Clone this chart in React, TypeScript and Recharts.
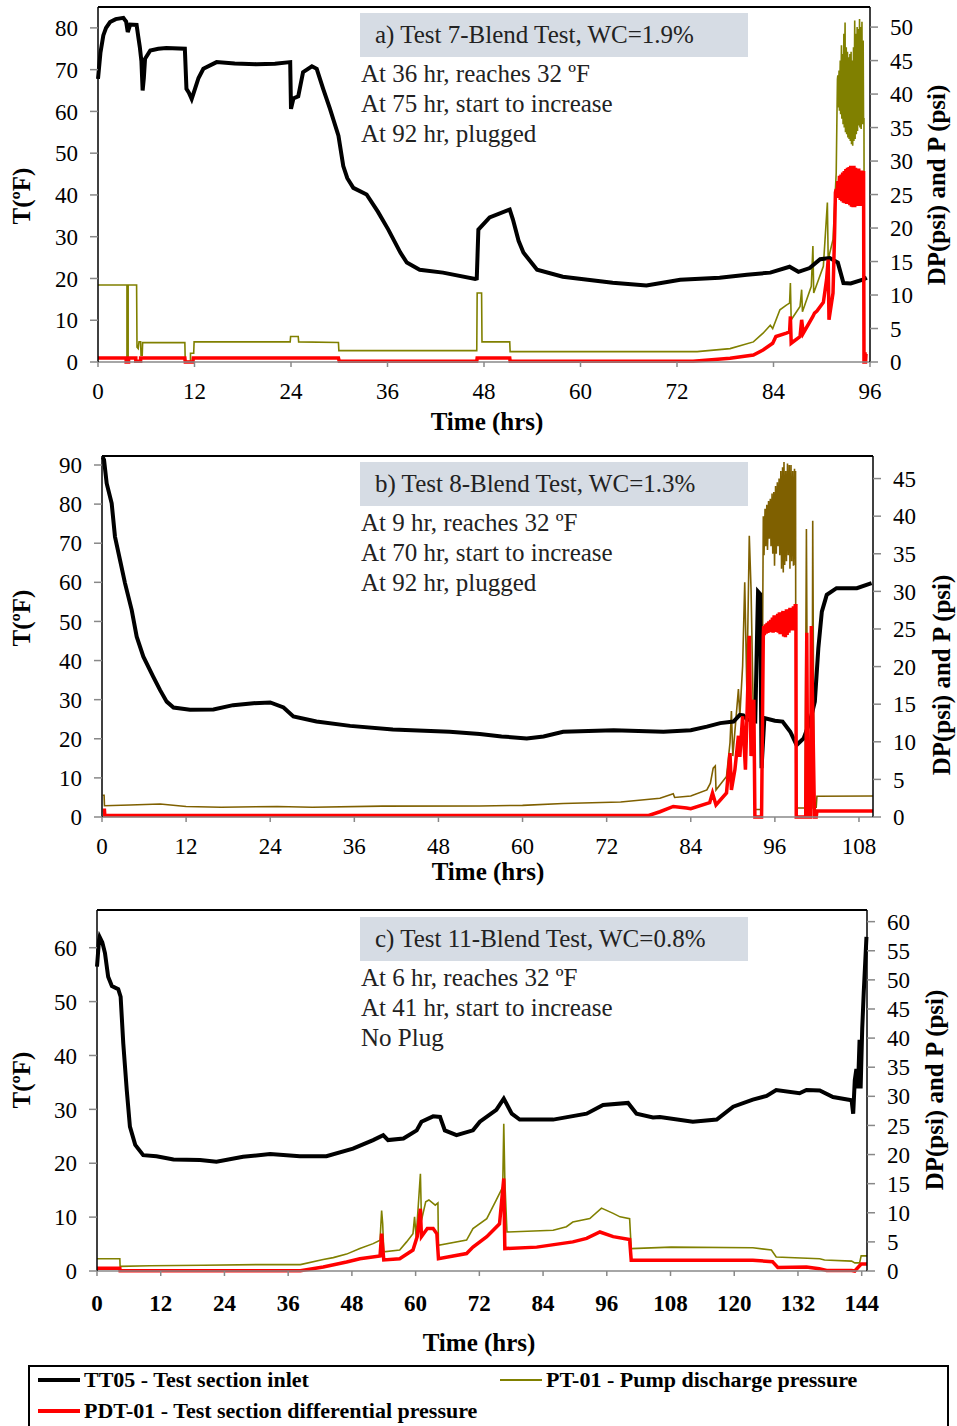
import React from 'react';
import { LineChart, Line, XAxis, YAxis, ReferenceLine } from 'recharts';

type Pt = [number, number];

const SERIF = '"Liberation Serif", "Times New Roman", serif';
const OLIVE = '#808000';
const BROWN = '#7F6000';
const RED = '#FF0000';

// ---- panel a: Test 7 ----
const hoursA = [0, 12, 24, 36, 48, 60, 72, 84, 96];
const tempTicksA = [0, 10, 20, 30, 40, 50, 60, 70, 80];
const psiTicksA = [0, 5, 10, 15, 20, 25, 30, 35, 40, 45, 50];

const tt05A: Pt[] = [
  [0, 67.8], [0.3, 74], [0.66, 78.2], [1.0, 80], [1.5, 81.4], [2.2, 82.1], [3.15, 82.4], [3.3, 82], [3.5, 81.5],
  [3.7, 79], [4.0, 80.8], [4.8, 80.7], [5.0, 78], [5.2, 75.4], [5.4, 72], [5.55, 65], [5.7, 68], [5.85, 72.6],
  [6.5, 74.6], [7.5, 75], [8.5, 75.2], [10.8, 75], [11.0, 65.4], [11.3, 64.5], [11.65, 63], [12.06, 65.4],
  [12.5, 68], [13.1, 70.2], [14.75, 71.8], [17, 71.5], [19.7, 71.3], [22, 71.4], [23.9, 71.8], [24.0, 60.6],
  [24.3, 63.1], [24.9, 63.6], [25.5, 69.4], [26.6, 70.8], [27.2, 70.2], [28.0, 65.4], [28.85, 60.6], [29.9, 54.2],
  [30.5, 46.9], [31.0, 44], [31.75, 41.7], [33.4, 40.1], [34.8, 36], [36.1, 31.7], [37.6, 26.2], [38.4, 23.8],
  [40, 22.1], [42.9, 21.4], [46.9, 19.9], [47.1, 20], [47.3, 31.7], [48.7, 34.6], [51.2, 36.5], [51.6, 34.1],
  [52.3, 29], [52.9, 26.2], [54.6, 22.1], [57.8, 20.4], [64, 19], [68.2, 18.3], [72.4, 19.7], [77.3, 20.2],
  [80.7, 20.9], [83.6, 21.4], [86, 22.8], [87.1, 21.6], [88.5, 22.5], [89.8, 24.6], [91, 24.9], [92, 23.8],
  [92.7, 18.9], [93.6, 18.8], [95.1, 19.7], [95.6, 20.2],
];

const pt01A: Pt[] = [
  [0, 11.5], [3.6, 11.5], [3.6, 0.3], [3.75, 0.3], [3.75, 11.5], [4.8, 11.5], [4.85, 2.2], [5.0, 2.0], [5.1, 3.0],
  [5.3, 3.0], [5.35, 1.0], [5.5, 1.0], [5.55, 2.9], [10.8, 2.9], [10.85, 0.05], [11.5, 0.05], [11.5, 1.3],
  [11.9, 1.3], [11.95, 3.0], [23.9, 3.0], [23.95, 3.8], [24.9, 3.8], [24.95, 3.0], [29.9, 2.9], [29.95, 1.7],
  [47.1, 1.7], [47.15, 10.3], [47.7, 10.3], [47.75, 3.0], [51.2, 3.0], [51.25, 1.55], [74.5, 1.55], [78.6, 2.0],
  [81.5, 3.0], [82.7, 4.3], [83.6, 5.5], [83.9, 5.0], [84.8, 7.8], [85.6, 8.5], [86.0, 8.8], [86.1, 11.8],
  [86.2, 6.3], [87.3, 8.3], [87.5, 10.8], [87.6, 7.5], [88.7, 11.3], [88.9, 17.3], [89.0, 10.3], [90.2, 14.3],
  [90.7, 23.8], [90.8, 15.3], [91.4, 18.3], [91.8, 28.3], [91.95, 42.2],
  [92.0, 42.8], [92.05, 38], [92.15, 43.5], [92.2, 37.5], [92.3, 45], [92.35, 37], [92.45, 47.3], [92.5, 36.3],
  [92.6, 46], [92.65, 35.5], [92.75, 49], [92.8, 35], [92.9, 50.7], [92.95, 34.3], [93.05, 47], [93.1, 34],
  [93.2, 46.3], [93.25, 33.5], [93.35, 45.5], [93.4, 33.3], [93.5, 46], [93.55, 33], [93.65, 46.3], [93.7, 32.5],
  [93.8, 45], [93.85, 32.3], [93.95, 47], [94.0, 33], [94.1, 51], [94.15, 33.3], [94.25, 49], [94.3, 34],
  [94.4, 50], [94.45, 34.5], [94.55, 49.7], [94.6, 35.3], [94.7, 51.2], [94.75, 35], [94.85, 50], [94.9, 34.8],
  [95.0, 50.8], [95.05, 35.5], [95.15, 48], [95.2, 36.3], [95.25, 36.3], [95.3, 0], [95.6, 0],
];

const pdt01A: Pt[] = [
  [0, 0.6], [3.5, 0.6], [3.5, 0], [3.8, 0], [3.8, 0.6], [4.7, 0.6], [4.7, 0.1], [5.3, 0.1], [5.3, 0.6],
  [10.8, 0.6], [10.85, 0], [11.8, 0], [11.85, 0.6], [29.9, 0.6], [30.0, 0.1], [47.1, 0.1], [47.15, 0.6],
  [51.2, 0.6], [51.25, 0.1], [74, 0.1], [78.6, 0.55], [81.5, 1.05], [82.7, 1.8], [83.9, 2.8], [84.3, 3.8],
  [85.6, 4.3], [86.0, 4.5], [86.1, 6.8], [86.2, 2.8], [87.3, 3.8], [87.5, 6.3], [87.7, 4.3], [88.9, 6.8],
  [89.1, 7.3], [89.4, 7.6], [90.2, 8.9], [90.6, 12.3], [90.8, 15.3], [90.9, 6.3], [91.4, 10.3], [91.6, 19.3],
  [91.7, 25.3], [91.8, 25.8], [91.9, 24.8], [92.0, 27.0], [92.1, 24.5], [92.2, 27.8], [92.3, 24.2], [92.4, 28],
  [92.5, 24], [92.6, 28.3], [92.7, 23.8], [92.8, 28.5], [92.9, 23.7], [93.0, 28.8], [93.1, 23.6], [93.2, 29],
  [93.3, 23.6], [93.4, 29.1], [93.5, 23.4], [93.6, 29.3], [93.7, 23.2], [93.8, 29.2], [93.9, 23.1], [94.0, 29.3],
  [94.1, 23.1], [94.2, 29], [94.3, 23.3], [94.4, 28.8], [94.5, 23.3], [94.6, 28.9], [94.7, 23.4], [94.8, 28.6],
  [94.9, 23.3], [95.0, 28.6], [95.1, 23.3], [95.2, 28.5], [95.25, 0], [95.45, 0], [95.5, 1.2], [95.6, 1.2],
];

// ---- panel b: Test 8 ----
const hoursB = [0, 12, 24, 36, 48, 60, 72, 84, 96, 108];
const tempTicksB = [0, 10, 20, 30, 40, 50, 60, 70, 80, 90];
const psiTicksB = [0, 5, 10, 15, 20, 25, 30, 35, 40, 45];

const tt05B: Pt[] = [
  [0.1, 92], [0.29, 91.3], [0.67, 85.3], [1.38, 80.2], [1.85, 71.7], [2.57, 65.7], [3.28, 59.8], [4.24, 52.9],
  [4.95, 46.1], [5.9, 41], [7.3, 35.9], [8.27, 32.5], [9.23, 29.5], [10.2, 28], [12.55, 27.4], [15.9, 27.5],
  [18.7, 28.6], [21.6, 29.1], [24, 29.3], [25.9, 28], [27.3, 25.7], [30.6, 24.4], [35.4, 23.3], [41.5, 22.4],
  [49.6, 21.8], [53.9, 21.2], [57, 20.6], [60.6, 20.1], [63, 20.6], [65.8, 21.8], [73, 22.2], [80.1, 21.8],
  [84, 22.2], [86.3, 23.1], [88.2, 24], [90.1, 24.4], [91, 26.1], [91.5, 26], [92, 25], [93.2, 24.5], [93.5, 50],
  [93.6, 57.6], [93.9, 57], [94.1, 12.5], [94.5, 25.3], [96, 24.6], [97.1, 24.4], [98.2, 21.8], [99.1, 18.4],
  [100.1, 20.1], [101, 24.4], [101.7, 29.5], [102.2, 43.1], [102.7, 52.5], [103.4, 56.8], [104.8, 58.5],
  [107.7, 58.5], [109.8, 59.8],
];

const pt01B: Pt[] = [
  [0.1, 2.9], [0.3, 2.9], [0.35, 1.5], [4, 1.6], [8.3, 1.72], [12, 1.4], [17, 1.3], [25, 1.4], [30, 1.3],
  [40, 1.45], [53.9, 1.46], [60, 1.55], [65.8, 1.8], [74, 2.0], [79.6, 2.5], [81.5, 3.1], [81.7, 2.6], [84, 2.8],
  [86.3, 3.6], [86.8, 4.5], [87.2, 6.5], [87.5, 6.8], [87.6, 3.6], [89.1, 5.4], [89.6, 9.9], [89.8, 14.1],
  [90.0, 8.1], [90.8, 17], [91.0, 13.4], [91.4, 20.1], [91.7, 31.2], [92.0, 17], [92.35, 37.4], [92.6, 30.3],
  [92.9, 15], [93.2, 1], [94.1, 1], [94.35, 40], [94.45, 34.8], [94.6, 41], [94.7, 36], [94.85, 41.5],
  [94.95, 35.5], [95.1, 42], [95.2, 37], [95.35, 42.3], [95.45, 36], [95.6, 43], [95.7, 35], [95.85, 43.2],
  [95.95, 33.4], [96.1, 44], [96.2, 35], [96.35, 44.5], [96.45, 36], [96.6, 45], [96.7, 34.8], [96.85, 46],
  [96.95, 33], [97.1, 46.5], [97.2, 32.5], [97.3, 47.2], [97.4, 33.5], [97.55, 46], [97.65, 34], [97.8, 47],
  [97.9, 34.8], [98.05, 46.8], [98.15, 33], [98.3, 46.8], [98.4, 34], [98.55, 46], [98.65, 33.4], [98.8, 46.3],
  [98.9, 33.5], [98.95, 46], [99.0, 1.2], [100.3, 1.2], [100.5, 38.3], [100.7, 1.2], [101.3, 1.2], [101.4, 39.4],
  [101.6, 1.3], [101.9, 1.3], [102.0, 2.75], [110, 2.8],
];

const pdt01B: Pt[] = [
  [0.1, 0.9], [0.35, 0.9], [0.4, 0.2], [78, 0.2], [79.6, 0.7], [81.5, 1.4], [83.4, 1.2], [84, 1.1], [86.7, 1.9],
  [87.1, 3.2], [87.6, 1.6], [89.1, 3.2], [89.6, 8.5], [89.8, 3.6], [90.3, 6.3], [90.8, 10.8], [91.0, 8],
  [91.4, 13.4], [91.8, 6.3], [92.35, 24.1], [92.6, 8.1], [93.0, 15.6], [93.15, 0], [94.1, 0], [94.35, 24.1],
  [94.4, 25.4], [94.5, 24.2], [94.65, 25.6], [94.75, 24.4], [94.9, 25.8], [95.0, 24.5], [95.15, 26], [95.25, 24.6],
  [95.4, 26.2], [95.5, 24.8], [95.65, 26.5], [95.75, 24.5], [95.9, 26.8], [96.0, 24.6], [96.15, 26.6],
  [96.25, 24.8], [96.4, 27], [96.5, 24.5], [96.65, 27.2], [96.75, 24.3], [96.9, 27.2], [97.0, 24.5], [97.15, 27.4],
  [97.25, 24], [97.4, 27.3], [97.5, 23.9], [97.65, 27.6], [97.75, 24.2], [97.9, 27.6], [98.0, 24.5], [98.15, 27.8],
  [98.25, 24.8], [98.4, 27.8], [98.5, 25], [98.65, 28], [98.75, 24.8], [98.9, 28.1], [99.0, 28.1], [99.05, 0],
  [100.4, 0], [100.55, 24.5], [100.7, 0], [101.1, 0], [101.2, 25.4], [101.65, 0], [101.9, 0], [102.0, 0.8],
  [110, 0.8],
];

// ---- panel c: Test 11 ----
const hoursC = [0, 12, 24, 36, 48, 60, 72, 84, 96, 108, 120, 132, 144];
const tempTicksC = [0, 10, 20, 30, 40, 50, 60];
const psiTicksC = [0, 5, 10, 15, 20, 25, 30, 35, 40, 45, 50, 55, 60];

const tt05C: Pt[] = [
  [0, 56.5], [0.38, 61.4], [0.5, 62], [1.0, 61], [1.5, 59], [2.1, 54.6], [2.8, 52.9], [4.0, 52.3], [4.45, 50.9],
  [4.95, 42.2], [5.6, 33.6], [6.2, 26.8], [7.2, 23.4], [8.7, 21.5], [11.2, 21.3], [14.4, 20.7], [19.4, 20.6],
  [22.5, 20.3], [27.5, 21.2], [32.6, 21.7], [38.2, 21.3], [43.2, 21.3], [48.2, 22.7], [52, 24.3], [53.9, 25.2],
  [54.8, 24.3], [57.7, 24.6], [60.2, 26.1], [61.1, 27.7], [63.3, 28.7], [64.6, 28.6], [65.5, 26.1], [67.7, 25.2],
  [70.8, 26.1], [72.1, 27.7], [75.2, 29.9], [76.6, 32], [78.1, 29.2], [79.6, 28.1], [85.9, 28.1], [92.2, 29.2],
  [95.3, 30.8], [100, 31.2], [101.6, 29.2], [104.7, 28.5], [106, 28.6], [112.2, 27.7], [116.7, 28.1],
  [119.8, 30.5], [123.5, 31.8], [126.1, 32.5], [127.9, 33.6], [132.3, 33.0], [133.6, 33.6], [136.1, 33.5],
  [138.6, 32.3], [142.1, 31.7], [142.4, 29.2], [142.7, 35.4], [143.0, 37.5], [143.3, 33.9], [143.6, 42.9],
  [143.8, 33.9], [144.1, 45], [144.4, 52], [144.9, 62],
];

const pt01C: Pt[] = [
  [0, 2.1], [4.3, 2.1], [4.35, 0.8], [10, 0.9], [20, 1.0], [30, 1.1], [38.3, 1.1], [42.6, 1.96], [44.5, 2.3],
  [47, 2.9], [49.5, 3.85], [52, 4.7], [53.3, 5.3], [53.6, 10.4], [53.8, 8.1], [54.0, 3.3], [57, 3.6], [58.3, 5.0],
  [59.5, 6.4], [59.8, 9.3], [60.1, 5.8], [60.9, 16.7], [61.1, 8.7], [61.9, 11.9], [62.5, 12.2], [63.7, 11.3],
  [64.2, 11.7], [64.3, 4.4], [69.6, 5.3], [70.8, 7.3], [73.4, 9.0], [75.2, 12.2], [76.4, 14.4], [76.6, 25.3],
  [76.8, 15.5], [77.2, 6.7], [85.9, 7.0], [88.4, 7.6], [89.6, 8.4], [92.8, 9.0], [95.0, 10.8], [97.2, 9.9],
  [98.5, 9.3], [100.3, 9.0], [100.6, 3.85], [108.1, 4.1], [123.5, 4.0], [127, 3.6], [127.9, 2.4], [136.1, 2.1],
  [137, 1.9], [142.1, 1.7], [142.7, 1.4], [143.6, 1.4], [143.9, 2.6], [145, 2.6],
];

const pdt01C: Pt[] = [
  [0, 0.46], [4.3, 0.46], [4.35, 0.05], [38.3, 0.05], [42.6, 0.7], [47, 1.55], [49.5, 2.1], [53.3, 2.6],
  [53.6, 6.4], [53.8, 4.1], [54.0, 1.9], [57, 2.1], [59.5, 3.6], [60.3, 5.9], [60.9, 10.7], [61.1, 5.9],
  [62.2, 7.3], [63.3, 7.3], [64, 6.4], [64.3, 2.1], [69.6, 3.0], [70.8, 4.1], [73.4, 5.9], [75.8, 8.1],
  [76.6, 15.9], [76.8, 3.85], [82.8, 4.1], [89.6, 5.0], [92.2, 5.6], [94.7, 6.7], [97.2, 5.9], [100.3, 5.4],
  [100.6, 1.85], [123.5, 1.85], [127.2, 1.6], [128.2, 0.6], [133.6, 0.7], [136, 0.4], [137.4, 0.1], [142.1, 0.1],
  [142.7, 0], [143.9, 1.2], [145, 1.2],
];

const toRows = (pts: Pt[]) => pts.map(([x, y]) => ({ x, y }));

type PanelProps = {
  top: number;
  height: number;
  left: number;
  right: number;
  xMax: number;
  xTicks: number[];
  tMax: number;
  tTicks: number[];
  pMax: number;
  pTicks: number[];
  temp: Pt[];
  pump: Pt[];
  diff: Pt[];
  pumpColor: string;
  boldX?: boolean;
  xTickGap: number;
};

const Panel = (p: PanelProps) => {
  const tick = { fontSize: 23, fill: '#000', fontFamily: SERIF };
  const xTick = { ...tick, fontWeight: p.boldX ? 'bold' : 'normal' };
  return (
    <div style={{ position: 'absolute', left: 0, top: p.top }}>
      <LineChart width={957} height={p.height} margin={{ top: 7, right: p.right, left: p.left, bottom: 0 }}>
        <XAxis
          type="number"
          dataKey="x"
          domain={[0, p.xMax]}
          ticks={p.xTicks}
          interval={0}
          height={54}
          tickSize={5}
          tickMargin={p.xTickGap}
          tick={xTick}
          axisLine={{ stroke: '#888', strokeWidth: 1.5 }}
          tickLine={{ stroke: '#888', strokeWidth: 1.5 }}
        />
        <YAxis
          yAxisId="left"
          type="number"
          domain={[0, p.tMax]}
          ticks={p.tTicks}
          interval={0}
          width={60}
          tickSize={8}
          tickMargin={12}
          tick={tick}
          axisLine={{ stroke: '#000', strokeWidth: 1.5 }}
          tickLine={{ stroke: '#888', strokeWidth: 1.5 }}
        />
        <YAxis
          yAxisId="right"
          orientation="right"
          type="number"
          domain={[0, p.pMax]}
          ticks={p.pTicks}
          interval={0}
          width={60}
          tickSize={8}
          tickMargin={12}
          tick={tick}
          axisLine={{ stroke: '#000', strokeWidth: 1.5 }}
          tickLine={{ stroke: '#888', strokeWidth: 1.5 }}
        />
        <ReferenceLine yAxisId="left" y={p.tMax} stroke="#000" strokeWidth={2} />
        <Line data={toRows(p.pump)} dataKey="y" yAxisId="right" type="linear" stroke={p.pumpColor}
          strokeWidth={1.6} dot={false} isAnimationActive={false} />
        <Line data={toRows(p.temp)} dataKey="y" yAxisId="left" type="linear" stroke="#000"
          strokeWidth={4} dot={false} isAnimationActive={false} />
        <Line data={toRows(p.diff)} dataKey="y" yAxisId="right" type="linear" stroke={RED}
          strokeWidth={3.5} dot={false} isAnimationActive={false} />
      </LineChart>
    </div>
  );
};

const txt = (left: number, top: number, s: string, key?: number) => (
  <div key={key} style={{ position: 'absolute', left, top, fontSize: 25, lineHeight: '30px', whiteSpace: 'nowrap', color: '#222' }}>
    {s}
  </div>
);

const vTitle = (cx: number, cy: number, s: string) => (
  <div style={{
    position: 'absolute', left: cx, top: cy, transform: 'translate(-50%, -50%) rotate(-90deg)',
    fontSize: 25, fontWeight: 'bold', whiteSpace: 'nowrap',
  }}>{s}</div>
);

const hTitle = (cx: number, cy: number, s: string) => (
  <div style={{
    position: 'absolute', left: cx, top: cy, transform: 'translate(-50%, -50%)',
    fontSize: 25, fontWeight: 'bold', whiteSpace: 'nowrap',
  }}>{s}</div>
);

const noteBox = (top: number, title: string, lines: string[]) => (
  <>
    <div style={{ position: 'absolute', left: 360, top, width: 388, height: 44, background: '#D6DCE4' }} />
    {txt(375, top + 7, title)}
    {lines.map((l, i) => txt(361, top + 46 + i * 30, l, i))}
  </>
);

const legendItem = (left: number, top: number, color: string, w: number, label: string) => (
  <div style={{ position: 'absolute', left, top, display: 'flex', alignItems: 'center', whiteSpace: 'nowrap' }}>
    <div style={{ width: 42, height: w, background: color, marginRight: 4 }} />
    <span style={{ fontSize: 22, fontWeight: 'bold' }}>{label}</span>
  </div>
);

export default function App() {
  return (
    <div style={{ position: 'absolute', left: 0, top: 0, width: 957, height: 1426, background: '#fff', overflow: 'hidden', fontFamily: SERIF, color: '#000' }}>
      <Panel top={0} height={416} left={38} right={27} xMax={96} xTicks={hoursA} tMax={85} tTicks={tempTicksA}
        pMax={53} pTicks={psiTicksA} temp={tt05A} pump={pt01A} diff={pdt01A} pumpColor={OLIVE} xTickGap={16} />
      <Panel top={449} height={422} left={42} right={24} xMax={110} xTicks={hoursB} tMax={92.3} tTicks={tempTicksB}
        pMax={48} pTicks={psiTicksB} temp={tt05B} pump={pt01B} diff={pdt01B} pumpColor={BROWN} xTickGap={16} />
      <Panel top={903} height={422} left={37} right={30} xMax={145} xTicks={hoursC} tMax={67} tTicks={tempTicksC}
        pMax={62} pTicks={psiTicksC} temp={tt05C} pump={pt01C} diff={pdt01C} pumpColor={OLIVE} boldX xTickGap={19} />

      {noteBox(13, 'a) Test 7-Blend Test, WC=1.9%', ['At 36 hr, reaches 32 ºF', 'At 75 hr, start to increase', 'At 92 hr, plugged'])}
      {noteBox(462, 'b) Test 8-Blend Test, WC=1.3%', ['At 9 hr, reaches 32 ºF', 'At 70 hr, start to increase', 'At 92 hr, plugged'])}
      {noteBox(917, 'c) Test 11-Blend Test, WC=0.8%', ['At 6 hr, reaches 32 ºF', 'At 41 hr, start to increase', 'No Plug'])}

      {vTitle(22, 196, 'T(ºF)')}
      {vTitle(937, 185, 'DP(psi) and P (psi)')}
      {hTitle(487, 422, 'Time (hrs)')}
      {vTitle(22, 618, 'T(ºF)')}
      {vTitle(942, 675, 'DP(psi) and P (psi)')}
      {hTitle(488, 872, 'Time (hrs)')}
      {vTitle(22, 1080, 'T(ºF)')}
      {vTitle(935, 1090, 'DP(psi) and P (psi)')}
      {hTitle(479, 1343, 'Time (hrs)')}

      <div style={{ position: 'absolute', left: 28, top: 1365, width: 917, height: 80, border: '2px solid #000' }} />
      {legendItem(38, 1367, '#000', 4, 'TT05 - Test section inlet')}
      {legendItem(500, 1367, OLIVE, 2, 'PT-01 - Pump discharge pressure')}
      {legendItem(38, 1398, RED, 4, 'PDT-01 - Test section differential pressure')}
    </div>
  );
}
